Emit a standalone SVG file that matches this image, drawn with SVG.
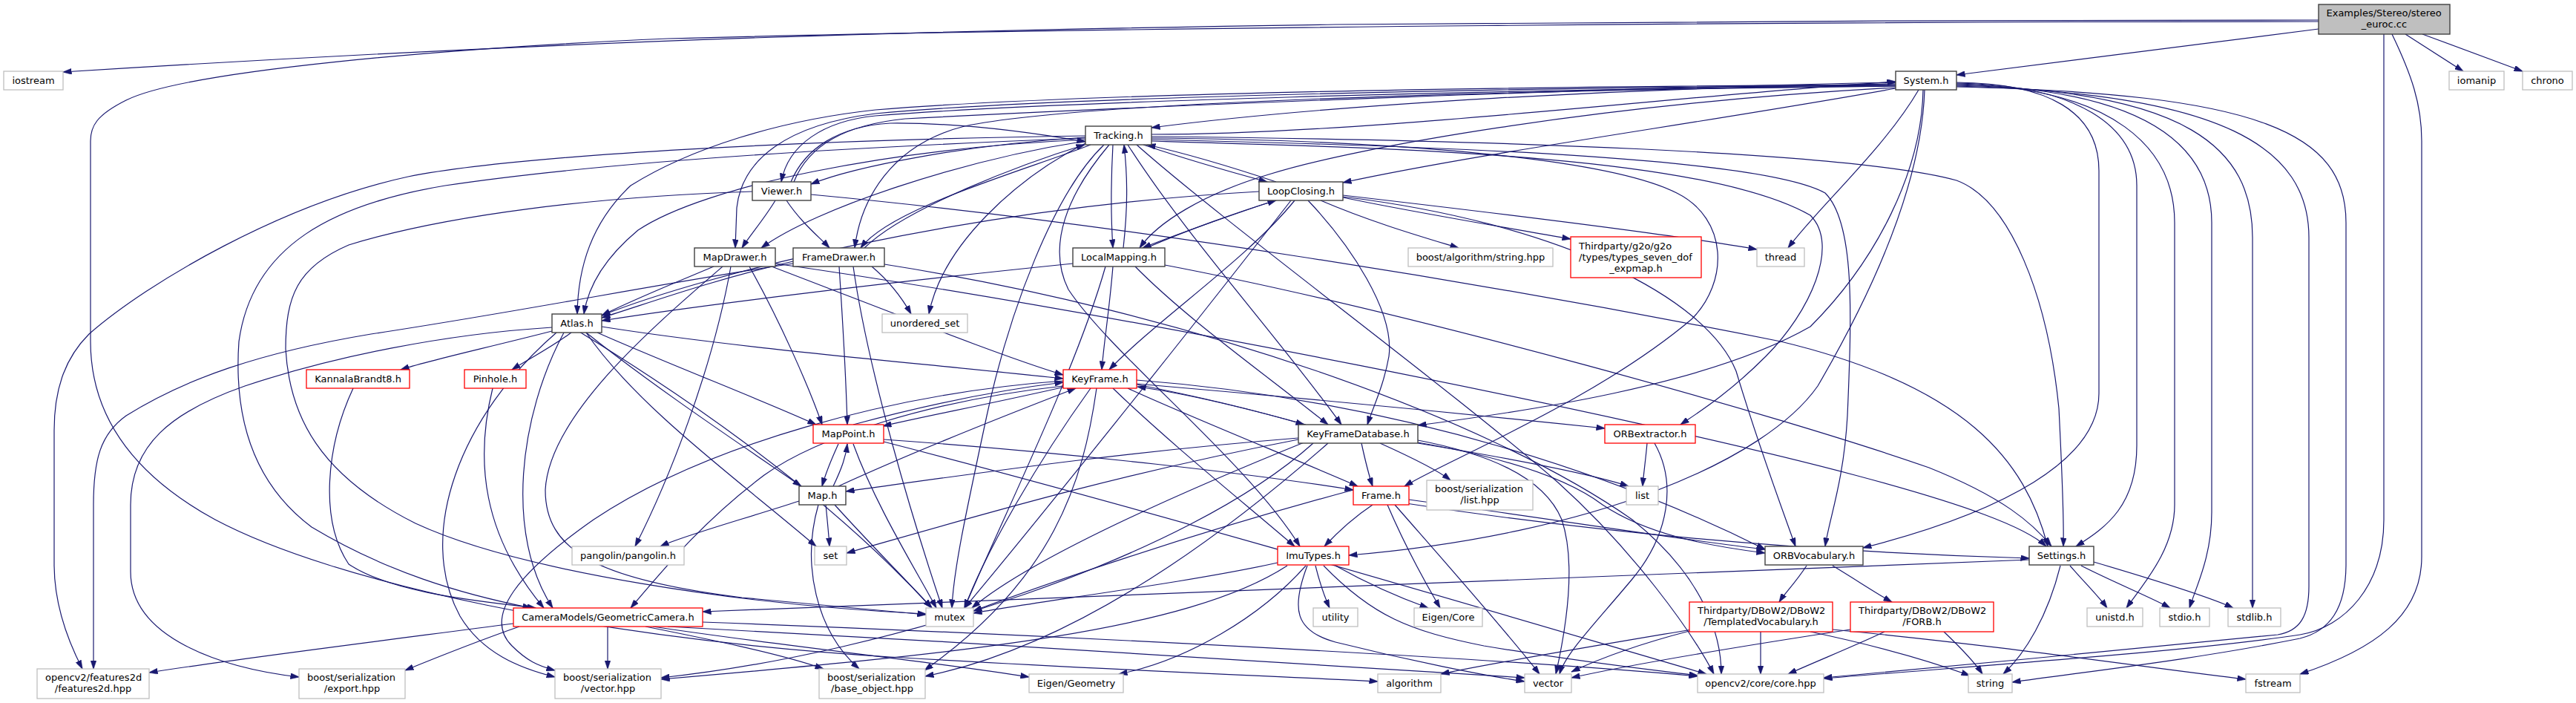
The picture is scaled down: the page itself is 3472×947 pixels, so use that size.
<svg xmlns="http://www.w3.org/2000/svg" width="3472" height="947" viewBox="0 0 3472 947">
<style>
.e{fill:none;stroke:#191970;stroke-width:1.2;marker-end:url(#ah)}
.nd{fill:#fff;stroke:#404040;stroke-width:1.4}
.nr{fill:#fff;stroke:#ff0000;stroke-width:1.3}
.ng{fill:#fff;stroke:#bfbfbf;stroke-width:1.3}
.nm{fill:#bfbfbf;stroke:#404040;stroke-width:1.4}
text{font-family:"DejaVu Sans","Liberation Sans",sans-serif;font-size:13px;fill:#000}
.c{text-anchor:middle}
.l{text-anchor:start}
</style>
<defs>
<marker id="ah" viewBox="0 0 12 8" refX="11.5" refY="4" markerWidth="12" markerHeight="8" markerUnits="userSpaceOnUse" orient="auto"><path d="M0,0 L12,4 L0,8 z" fill="#191970" stroke="#191970" stroke-width="0.5"/></marker>
</defs>
<rect x="0" y="0" width="3472" height="947" fill="#fff"/>
<g id="edges">
<path class="e" d="M3125,27 C2700,27 2200,29 1800,33 C1300,40 800,52 85,97"/>
<path class="e" d="M3125,29 C2500,29 1500,36 900,52 C600,65 250,95 170,135 C130,155 122,170 122,190 L122,460 C122,560 180,640 290,700 C450,785 800,860 1200,885 C1500,903 1750,912 1857,918"/>
<path class="e" d="M3125,39 L2637,101"/>
<path class="e" d="M3242,46 L3320,96"/>
<path class="e" d="M3265,46 L3400,96"/>
<path class="e" d="M3213,46 L3213,700 C3213,790 3160,845 3100,855 C2950,878 2650,898 2458,914"/>
<path class="e" d="M3224,46 C3250,100 3264,140 3264,190 L3264,750 C3264,830 3200,875 3100,908"/>
<path class="e" d="M2555,113 C2200,118 1800,140 1552,172"/>
<path class="e" d="M2555,116 C2000,122 1450,138 1300,170 C1200,195 1160,270 1152,334"/>
<path class="e" d="M2555,115 C2000,118 1400,132 1180,153 C1060,168 1000,215 993,280 L991,334"/>
<path class="e" d="M2555,114 C2000,117 1450,126 1180,148 C1050,162 930,200 850,250 C797,300 779,360 778,423"/>
<path class="e" d="M2555,118 C2150,140 1820,200 1710,235 C1620,262 1560,300 1536,334"/>
<path class="e" d="M2555,119 C2300,165 2000,205 1810,246"/>
<path class="e" d="M2592,121 C2590,230 2530,350 2440,440 C2300,520 2050,555 1911,573"/>
<path class="e" d="M2637,111 C2760,112 2829,150 2829,230 L2829,530 C2829,620 2700,690 2511,738"/>
<path class="e" d="M2555,116 C2000,120 1400,138 1180,156 C1110,163 1062,195 1053,245"/>
<path class="e" d="M2594,121 C2590,250 2520,400 2450,520 C2380,620 2150,720 1818,748"/>
<path class="e" d="M2637,112 C2800,114 2880,170 2880,250 L2880,600 C2880,680 2840,710 2798,736"/>
<path class="e" d="M2637,113 C2850,118 2931,200 2931,300 L2931,680 C2931,740 2890,785 2866,819"/>
<path class="e" d="M2637,114 C2900,120 2981,200 2981,300 L2981,690 C2981,750 2960,790 2951,819"/>
<path class="e" d="M2637,115 C2950,122 3036,200 3036,320 L3036,819"/>
<path class="e" d="M2637,117 C3050,126 3162,180 3162,300 L3162,760 C3162,820 3140,850 3100,860 C2950,890 2800,906 2712,919"/>
<path class="e" d="M2586,121 C2540,200 2450,280 2410,334"/>
<path class="e" d="M2637,116 C3000,125 3112,200 3112,320 L3112,790 C3112,830 3100,850 3070,855 C2900,873 2650,895 2458,913"/>
<path class="e" d="M1552,181 C1850,181 2300,125 2555,110"/>
<path class="e" d="M1463,185 C1300,195 1150,225 1093,248"/>
<path class="e" d="M1470,195 C1380,230 1200,280 1160,334"/>
<path class="e" d="M1463,190 C1300,215 1100,280 1026,334"/>
<path class="e" d="M1463,188 C1200,200 950,250 860,310 C812,350 792,390 787,423"/>
<path class="e" d="M1500,195 C1497,250 1497,290 1500,334"/>
<path class="e" d="M1541,195 C1600,215 1660,232 1708,245"/>
<path class="e" d="M1552,186 C1800,188 2150,205 2260,260 C2330,295 2330,380 2280,430 C2150,540 1950,620 1893,655"/>
<path class="e" d="M1552,188 C2000,198 2380,215 2460,260 C2500,300 2496,420 2490,560 C2485,650 2465,700 2460,736"/>
<path class="e" d="M1552,184 C2000,188 2500,205 2637,243 C2710,270 2760,400 2775,550 C2780,650 2782,700 2781,736"/>
<path class="e" d="M1552,190 C1900,200 2300,210 2440,290 C2480,330 2440,420 2380,480 C2330,530 2290,555 2265,572"/>
<path class="e" d="M1520,195 C1600,320 1720,450 1808,572"/>
<path class="e" d="M1495,195 C1440,260 1410,330 1440,390 C1500,480 1680,620 1752,736"/>
<path class="e" d="M1488,195 C1420,260 1360,420 1330,560 C1300,700 1285,770 1283,819"/>
<path class="e" d="M1463,193 C1370,240 1270,330 1252,423"/>
<path class="e" d="M1463,186 C1100,200 800,220 600,250 C450,275 340,330 322,460 C315,560 340,650 420,710 C520,770 620,800 716,819"/>
<path class="e" d="M1532,195 C1650,300 1950,520 2100,650 C2200,740 2280,850 2310,908"/>
<path class="e" d="M1463,183 C1100,188 700,208 550,238 C380,275 200,380 120,450 C90,480 73,520 73,580 L73,760 C73,820 95,870 111,901"/>
<path class="e" d="M1060,270 C1080,300 1105,320 1118,334"/>
<path class="e" d="M1045,270 C1030,295 1010,318 1000,334"/>
<path class="e" d="M1066,245 C1085,200 1130,170 1200,166 C1300,165 1400,180 1463,191"/>
<path class="e" d="M1070,245 C1090,195 1140,168 1220,160 C1600,140 2200,118 2555,111"/>
<path class="e" d="M1093,262 C1500,300 2000,380 2400,460 C2650,520 2730,620 2760,736"/>
<path class="e" d="M1014,258 C800,265 600,290 470,330 C400,360 385,400 385,470 C390,560 430,640 560,705 C700,770 1000,815 1248,827"/>
<path class="e" d="M1165,334 C1220,280 1380,220 1462,195"/>
<path class="e" d="M1131,359 C1135,420 1140,500 1142,572"/>
<path class="e" d="M1069,352 C950,380 870,410 811,428"/>
<path class="e" d="M1192,356 C1600,420 2000,560 2200,700 C2300,780 2320,860 2320,908"/>
<path class="e" d="M1069,355 C900,380 700,420 500,450 C350,475 250,510 170,560 C135,585 126,620 126,680 L126,901"/>
<path class="e" d="M1150,359 C1170,500 1230,700 1270,819"/>
<path class="e" d="M1175,359 C1200,380 1215,400 1228,423"/>
<path class="e" d="M962,359 C900,385 850,405 811,425"/>
<path class="e" d="M1010,359 C1050,430 1090,520 1108,572"/>
<path class="e" d="M1040,359 C1200,420 1350,480 1433,505"/>
<path class="e" d="M1045,355 C1500,420 2200,560 2500,640 C2650,680 2730,710 2758,736"/>
<path class="e" d="M985,359 C960,500 900,650 856,736"/>
<path class="e" d="M974,359 C880,440 740,560 735,660 C735,740 800,780 1000,805 C1100,815 1180,822 1248,828"/>
<path class="e" d="M1500,359 C1495,420 1488,460 1485,498"/>
<path class="e" d="M1446,355 C1200,380 950,410 811,432"/>
<path class="e" d="M1545,334 C1600,310 1670,285 1720,270"/>
<path class="e" d="M1514,334 C1520,280 1520,240 1515,195"/>
<path class="e" d="M1530,359 C1600,430 1700,500 1790,572"/>
<path class="e" d="M1570,357 C1900,420 2400,560 2600,630 C2700,670 2740,705 2765,736"/>
<path class="e" d="M1490,359 C1450,500 1350,700 1300,819"/>
<path class="e" d="M1745,270 C1680,350 1560,430 1495,498"/>
<path class="e" d="M1718,270 C1660,290 1600,310 1540,334"/>
<path class="e" d="M1697,258 C1300,280 950,370 811,425"/>
<path class="e" d="M1810,265 C2100,300 2300,400 2340,500 C2370,600 2400,680 2420,736"/>
<path class="e" d="M1720,245 C1660,225 1600,207 1546,195"/>
<path class="e" d="M1763,270 C1820,330 1880,420 1872,480 C1865,520 1850,550 1843,572"/>
<path class="e" d="M1780,270 C1850,300 1920,320 1966,334"/>
<path class="e" d="M1810,263 C2000,285 2250,315 2368,336"/>
<path class="e" d="M1740,270 C1600,450 1400,700 1300,819"/>
<path class="e" d="M1810,266 C1900,285 2050,310 2117,322"/>
<path class="e" d="M790,448 C880,520 1000,600 1080,655"/>
<path class="e" d="M805,448 C900,490 1030,540 1100,572"/>
<path class="e" d="M811,440 C1000,470 1250,490 1433,510"/>
<path class="e" d="M760,448 C700,560 680,720 745,819"/>
<path class="e" d="M770,448 C740,470 710,485 690,498"/>
<path class="e" d="M744,446 C650,470 580,485 540,498"/>
<path class="e" d="M790,448 C860,550 1000,650 1100,736"/>
<path class="e" d="M781,447 C900,520 1100,650 1256,819"/>
<path class="e" d="M750,448 C620,560 560,720 620,830 C650,880 700,900 748,912"/>
<path class="e" d="M744,441 C600,450 450,480 330,520 C230,555 176,600 176,680 L176,770 C176,860 300,900 403,912"/>
<path class="e" d="M476,523 C440,600 430,700 470,760 C530,800 650,810 722,819"/>
<path class="e" d="M664,523 C640,620 650,720 733,819"/>
<path class="e" d="M1440,520 C1330,545 1250,560 1190,574"/>
<path class="e" d="M1532,512 C1900,540 2200,650 2379,740"/>
<path class="e" d="M1532,517 C1800,540 2000,560 2163,577"/>
<path class="e" d="M1520,523 C1600,560 1750,620 1830,655"/>
<path class="e" d="M1532,518 C1620,535 1700,555 1758,572"/>
<path class="e" d="M1760,572 C1680,550 1600,530 1533,521"/>
<path class="e" d="M1500,523 C1580,600 1680,680 1745,736"/>
<path class="e" d="M1433,520 C1250,540 1100,590 1030,640 C950,700 900,760 850,819"/>
<path class="e" d="M1470,523 C1400,620 1330,740 1300,819"/>
<path class="e" d="M1478,523 C1460,650 1420,780 1246,903"/>
<path class="e" d="M1433,513 C1200,530 950,600 800,700 C700,770 650,830 690,870 C710,890 725,897 748,903"/>
<path class="e" d="M1150,572 C1250,545 1350,525 1433,515"/>
<path class="e" d="M1191,592 C1450,610 1700,640 1824,660"/>
<path class="e" d="M1130,598 C1120,620 1112,640 1108,655"/>
<path class="e" d="M1191,595 C1600,700 2100,850 2300,908"/>
<path class="e" d="M1150,598 C1180,680 1230,760 1262,819"/>
<path class="e" d="M1123,655 C1135,630 1140,615 1142,598"/>
<path class="e" d="M1130,655 C1250,600 1380,550 1450,523"/>
<path class="e" d="M1113,680 C1115,700 1117,720 1118,736"/>
<path class="e" d="M1077,675 C1000,700 920,722 890,736"/>
<path class="e" d="M1125,680 C1170,730 1220,780 1256,819"/>
<path class="e" d="M1103,680 C1080,760 1100,850 1158,901"/>
<path class="e" d="M1911,593 C2000,610 2080,640 2105,700 C2125,760 2110,850 2097,908"/>
<path class="e" d="M1911,597 C2050,620 2150,640 2195,655"/>
<path class="e" d="M1750,592 C1500,640 1300,700 1141,745"/>
<path class="e" d="M1835,597 C1840,620 1845,640 1850,655"/>
<path class="e" d="M1911,596 C2050,620 2120,650 2160,680 C2220,720 2300,735 2379,745"/>
<path class="e" d="M1750,590 C1500,610 1300,640 1140,662"/>
<path class="e" d="M1790,597 C1650,720 1450,870 1247,911"/>
<path class="e" d="M1770,597 C1600,750 1200,880 891,913"/>
<path class="e" d="M1860,597 C1900,615 1940,635 1955,647"/>
<path class="e" d="M1760,595 C1550,680 1380,760 1310,819"/>
<path class="e" d="M1880,680 C1950,760 2030,850 2075,908"/>
<path class="e" d="M1850,680 C1820,700 1800,720 1785,736"/>
<path class="e" d="M1899,673 C2100,700 2250,725 2379,740"/>
<path class="e" d="M1895,678 C2200,725 2500,745 2735,752"/>
<path class="e" d="M1824,660 C1600,720 1400,790 1312,823"/>
<path class="e" d="M1870,680 C1900,750 1930,800 1941,819"/>
<path class="e" d="M1762,762 C1740,820 1745,850 1800,865 C1900,890 2000,910 2055,918"/>
<path class="e" d="M1773,762 C1780,790 1788,810 1792,819"/>
<path class="e" d="M1784,762 C1850,830 1900,850 2000,870 C2150,895 2250,905 2288,910"/>
<path class="e" d="M1800,762 C1850,790 1900,810 1925,819"/>
<path class="e" d="M1760,762 C1700,830 1600,890 1508,908"/>
<path class="e" d="M1722,758 C1600,785 1400,810 1312,826"/>
<path class="e" d="M1735,762 C1600,850 1300,880 891,915"/>
<path class="e" d="M2230,597 C2260,650 2250,720 2200,780 C2150,840 2110,880 2102,908"/>
<path class="e" d="M2220,597 C2218,620 2215,640 2214,655"/>
<path class="e" d="M2435,762 C2420,785 2405,800 2398,811"/>
<path class="e" d="M2470,762 C2500,780 2530,800 2550,811"/>
<path class="e" d="M2735,754 C2000,780 1400,810 947,824"/>
<path class="e" d="M2790,762 C2810,785 2830,805 2840,819"/>
<path class="e" d="M2805,762 C2850,785 2900,805 2925,819"/>
<path class="e" d="M2822,757 C2900,780 2980,805 3010,819"/>
<path class="e" d="M2777,762 C2760,830 2730,880 2700,908"/>
<path class="e" d="M947,838 C1400,855 2000,885 2288,911"/>
<path class="e" d="M692,840 C500,865 300,890 201,906"/>
<path class="e" d="M880,844 C1050,870 1250,890 1387,912"/>
<path class="e" d="M819,844 L819,901"/>
<path class="e" d="M700,844 C640,865 590,885 546,903"/>
<path class="e" d="M870,844 C950,860 1050,880 1110,901"/>
<path class="e" d="M900,844 C1300,865 1800,895 2055,913"/>
<path class="e" d="M2373,851 L2373,908"/>
<path class="e" d="M2277,850 C2200,870 2150,890 2118,905"/>
<path class="e" d="M2280,848 C2150,870 2000,895 1942,908"/>
<path class="e" d="M2440,851 C2530,870 2600,890 2655,910"/>
<path class="e" d="M2470,848 C2700,870 2900,900 3027,915"/>
<path class="e" d="M2540,851 C2500,870 2450,890 2410,908"/>
<path class="e" d="M2494,848 C2350,870 2200,895 2118,913"/>
<path class="e" d="M2620,851 C2640,870 2660,890 2672,908"/>
</g>
<g id="node-examples"><rect class="nm" x="3125" y="6" width="177" height="40"/><text class="l" x="3135.5" y="22">Examples/Stereo/stereo</text><text class="c" x="3213.5" y="37">_euroc.cc</text></g>
<g id="node-iostream"><rect class="ng" x="5" y="96" width="80" height="25"/><text class="c" x="45" y="113">iostream</text></g>
<g id="node-system"><rect class="nd" x="2555" y="96" width="82" height="25"/><text class="c" x="2596" y="113">System.h</text></g>
<g id="node-iomanip"><rect class="ng" x="3301" y="96" width="74" height="25"/><text class="c" x="3338" y="113">iomanip</text></g>
<g id="node-chrono"><rect class="ng" x="3400" y="96" width="67" height="25"/><text class="c" x="3433.5" y="113">chrono</text></g>
<g id="node-tracking"><rect class="nd" x="1463" y="170" width="89" height="25"/><text class="c" x="1507.5" y="187">Tracking.h</text></g>
<g id="node-viewer"><rect class="nd" x="1014" y="245" width="79" height="25"/><text class="c" x="1053.5" y="262">Viewer.h</text></g>
<g id="node-loopclosing"><rect class="nd" x="1697" y="245" width="113" height="25"/><text class="c" x="1753.5" y="262">LoopClosing.h</text></g>
<g id="node-mapdrawer"><rect class="nd" x="936" y="334" width="109" height="25"/><text class="c" x="990.5" y="351">MapDrawer.h</text></g>
<g id="node-framedrawer"><rect class="nd" x="1069" y="334" width="123" height="25"/><text class="c" x="1130.5" y="351">FrameDrawer.h</text></g>
<g id="node-localmapping"><rect class="nd" x="1446" y="334" width="124" height="25"/><text class="c" x="1508" y="351">LocalMapping.h</text></g>
<g id="node-boost-algo"><rect class="ng" x="1898" y="334" width="195" height="25"/><text class="c" x="1995.5" y="351">boost/algorithm/string.hpp</text></g>
<g id="node-g2o"><rect class="nr" x="2117" y="319" width="176" height="55"/><text class="l" x="2128" y="335.5">Thirdparty/g2o/g2o</text><text class="l" x="2128" y="350.5">/types/types_seven_dof</text><text class="c" x="2205" y="365.5">_expmap.h</text></g>
<g id="node-thread"><rect class="ng" x="2368" y="334" width="64" height="25"/><text class="c" x="2400" y="351">thread</text></g>
<g id="node-atlas"><rect class="nd" x="744" y="423" width="67" height="25"/><text class="c" x="777.5" y="440">Atlas.h</text></g>
<g id="node-unordered-set"><rect class="ng" x="1189" y="423" width="115" height="25"/><text class="c" x="1246.5" y="440">unordered_set</text></g>
<g id="node-kannala"><rect class="nr" x="413" y="498" width="139" height="25"/><text class="c" x="482.5" y="515">KannalaBrandt8.h</text></g>
<g id="node-pinhole"><rect class="nr" x="626" y="498" width="83" height="25"/><text class="c" x="667.5" y="515">Pinhole.h</text></g>
<g id="node-keyframe"><rect class="nr" x="1433" y="498" width="99" height="25"/><text class="c" x="1482.5" y="515">KeyFrame.h</text></g>
<g id="node-mappoint"><rect class="nr" x="1096" y="572" width="95" height="25"/><text class="c" x="1143.5" y="589">MapPoint.h</text></g>
<g id="node-kfdb"><rect class="nd" x="1750" y="572" width="161" height="25"/><text class="c" x="1830.5" y="589">KeyFrameDatabase.h</text></g>
<g id="node-orbextractor"><rect class="nr" x="2163" y="572" width="122" height="25"/><text class="c" x="2224" y="589">ORBextractor.h</text></g>
<g id="node-map"><rect class="nd" x="1077" y="655" width="63" height="25"/><text class="c" x="1108.5" y="672">Map.h</text></g>
<g id="node-frame"><rect class="nr" x="1824" y="655" width="75" height="25"/><text class="c" x="1861.5" y="672">Frame.h</text></g>
<g id="node-boost-list"><rect class="ng" x="1923" y="647" width="143" height="40"/><text class="l" x="1934" y="663">boost/serialization</text><text class="c" x="1994.5" y="678">/list.hpp</text></g>
<g id="node-list"><rect class="ng" x="2192" y="655" width="43" height="25"/><text class="c" x="2213.5" y="672">list</text></g>
<g id="node-pangolin"><rect class="ng" x="771" y="736" width="151" height="25"/><text class="c" x="846.5" y="753">pangolin/pangolin.h</text></g>
<g id="node-set"><rect class="ng" x="1098" y="736" width="43" height="25"/><text class="c" x="1119.5" y="753">set</text></g>
<g id="node-imutypes"><rect class="nr" x="1722" y="736" width="96" height="25"/><text class="c" x="1770" y="753">ImuTypes.h</text></g>
<g id="node-orbvocabulary"><rect class="nd" x="2379" y="736" width="132" height="25"/><text class="c" x="2445" y="753">ORBVocabulary.h</text></g>
<g id="node-settings"><rect class="nd" x="2735" y="736" width="87" height="25"/><text class="c" x="2778.5" y="753">Settings.h</text></g>
<g id="node-geometriccamera"><rect class="nr" x="692" y="819" width="255" height="25"/><text class="c" x="819.5" y="836">CameraModels/GeometricCamera.h</text></g>
<g id="node-mutex"><rect class="ng" x="1248" y="819" width="64" height="25"/><text class="c" x="1280" y="836">mutex</text></g>
<g id="node-utility"><rect class="ng" x="1770" y="819" width="60" height="25"/><text class="c" x="1800" y="836">utility</text></g>
<g id="node-eigen-core"><rect class="ng" x="1906" y="819" width="92" height="25"/><text class="c" x="1952" y="836">Eigen/Core</text></g>
<g id="node-templatedvocabulary"><rect class="nr" x="2277" y="811" width="193" height="40"/><text class="l" x="2288" y="827">Thirdparty/DBoW2/DBoW2</text><text class="c" x="2373.5" y="842">/TemplatedVocabulary.h</text></g>
<g id="node-forb"><rect class="nr" x="2494" y="811" width="193" height="40"/><text class="l" x="2505" y="827">Thirdparty/DBoW2/DBoW2</text><text class="c" x="2590.5" y="842">/FORB.h</text></g>
<g id="node-unistd"><rect class="ng" x="2813" y="819" width="75" height="25"/><text class="c" x="2850.5" y="836">unistd.h</text></g>
<g id="node-stdio"><rect class="ng" x="2911" y="819" width="67" height="25"/><text class="c" x="2944.5" y="836">stdio.h</text></g>
<g id="node-stdlib"><rect class="ng" x="3003" y="819" width="71" height="25"/><text class="c" x="3038.5" y="836">stdlib.h</text></g>
<g id="node-features2d"><rect class="ng" x="50" y="901" width="151" height="40"/><text class="l" x="61" y="917">opencv2/features2d</text><text class="c" x="125.5" y="932">/features2d.hpp</text></g>
<g id="node-export"><rect class="ng" x="403" y="901" width="143" height="40"/><text class="l" x="414" y="917">boost/serialization</text><text class="c" x="474.5" y="932">/export.hpp</text></g>
<g id="node-boost-vector"><rect class="ng" x="748" y="901" width="143" height="40"/><text class="l" x="759" y="917">boost/serialization</text><text class="c" x="819.5" y="932">/vector.hpp</text></g>
<g id="node-base-object"><rect class="ng" x="1104" y="901" width="143" height="40"/><text class="l" x="1115" y="917">boost/serialization</text><text class="c" x="1175.5" y="932">/base_object.hpp</text></g>
<g id="node-eigen-geometry"><rect class="ng" x="1387" y="908" width="127" height="25"/><text class="c" x="1450.5" y="925">Eigen/Geometry</text></g>
<g id="node-algorithm"><rect class="ng" x="1857" y="908" width="85" height="25"/><text class="c" x="1899.5" y="925">algorithm</text></g>
<g id="node-vector"><rect class="ng" x="2055" y="908" width="63" height="25"/><text class="c" x="2086.5" y="925">vector</text></g>
<g id="node-core"><rect class="ng" x="2288" y="908" width="170" height="25"/><text class="c" x="2373" y="925">opencv2/core/core.hpp</text></g>
<g id="node-string"><rect class="ng" x="2653" y="908" width="59" height="25"/><text class="c" x="2682.5" y="925">string</text></g>
<g id="node-fstream"><rect class="ng" x="3027" y="908" width="73" height="25"/><text class="c" x="3063.5" y="925">fstream</text></g>
</svg>
